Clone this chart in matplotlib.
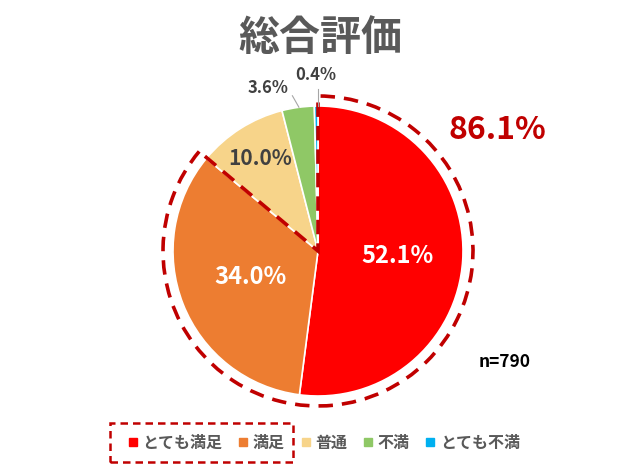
import matplotlib
matplotlib.use("Agg")
import matplotlib.pyplot as plt
from matplotlib.patches import Wedge, Rectangle
from matplotlib.lines import Line2D
import math

plt.rcParams['font.family'] = ['Noto Sans CJK JP', 'DejaVu Sans']

title = "総合評価"
categories = ["とても満足", "満足", "普通", "不満", "とても不満"]
values = [52.1, 34.0, 10.0, 3.6, 0.4]
colors = ["#FF0000", "#ED7D31", "#F7D48A", "#8FC866", "#00B0F0"]
label_colors = ["white", "white", "#404040", "#404040", "#404040"]
highlight_total = "86.1%"
n_text = "n=790"

W, H = 640, 465
fig = plt.figure(figsize=(6.4, 4.65), dpi=100)
ax = fig.add_axes([0, 0, 1, 1])

cx, cy, R = 318, H - 251, 145
wedges, _ = ax.pie(values, colors=colors, startangle=90, counterclock=False,
                   center=(cx, cy), radius=R,
                   wedgeprops=dict(edgecolor="white", linewidth=1.2))
ax.set_xlim(0, W)
ax.set_ylim(0, H)
ax.set_aspect("equal")
ax.axis("off")

# percentage labels inside the larger slices
label_r = [0.55, 0.5, 0.75]
label_size = [17, 17, 15]
cum = 0
for i, v in enumerate(values[:3]):
    mid = 90 - 360 * (cum + v / 2) / 100
    cum += v
    a = math.radians(mid)
    x = cx + R * label_r[i] * math.cos(a)
    y = cy + R * label_r[i] * math.sin(a)
    ax.text(x, y, f"{v:.1f}%", ha="center", va="center", color=label_colors[i],
            fontsize=label_size[i], fontweight="bold")

# outside labels with leader lines
cum3 = 90 - 360 * (values[0] + values[1] + values[2] + values[3] / 2) / 100
a3 = math.radians(cum3)
ax.plot([cx + R * math.cos(a3), cx + R * 1.08 * math.cos(a3) - 5],
        [cy + R * math.sin(a3), cy + R * 1.08 * math.sin(a3)], color="#A6A6A6", lw=0.8)
ax.text(268, H - 88, f"{values[3]:.1f}%", ha="center", va="center", color="#404040",
        fontsize=12, fontweight="bold")
ax.plot([cx, cx], [cy + R, cy + R + 17], color="#A6A6A6", lw=0.8)
ax.text(316, H - 75, f"{values[4]:.1f}%", ha="center", va="center", color="#404040",
        fontsize=12, fontweight="bold")

# dashed highlight wedge for the top two categories
frac = (values[0] + values[1]) / 100
theta_end = 90 - 360 * frac
ax.add_patch(Wedge((cx, cy), 155, theta_end + 360 if theta_end < 0 else theta_end, 450,
                   fill=False, edgecolor="#C00000", linewidth=2.6, linestyle=(0, (4, 2.5))))

ax.text(497, H - 130, highlight_total, ha="center", va="center", color="#C00000",
        fontsize=23, fontweight="bold")
ax.text(505, H - 362, n_text, ha="center", va="center", color="black",
        fontsize=12.5, fontweight="bold")

ax.text(320, H - 38, title, ha="center", va="center", color="#595959",
        fontsize=29.5, fontweight="bold")

handles = [Line2D([0], [0], marker="s", linestyle="", markersize=5.5,
                  markerfacecolor=c, markeredgecolor=c) for c in colors]
leg = ax.legend(handles, categories, loc="center", bbox_to_anchor=(324 / W, 1 - 443 / H),
                ncol=5, frameon=False, handlelength=0.6, handletextpad=0.3,
                columnspacing=1.0, prop=dict(size=11.5, weight="bold"))
for t in leg.get_texts():
    t.set_color("#595959")

ax.add_patch(Rectangle((110, H - 462), 183, 39, fill=False, edgecolor="#C00000",
                       linewidth=1.8, linestyle=(0, (3, 2))))

fig.savefig("out.png", dpi=100)
